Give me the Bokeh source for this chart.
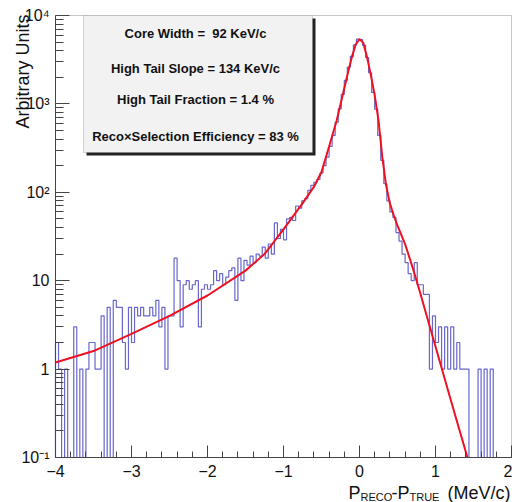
import math
from bokeh.plotting import figure
from bokeh.models import (FixedTicker, SingleIntervalTicker, BoxAnnotation, Label, Range1d)
from bokeh.embed import file_html
from bokeh.resources import INLINE

# ---------------- data ----------------
x_lo, x_hi, bin_w = -4.0, 2.0, 0.04
y_lo, y_hi = 0.1, 1e4
counts = [
    2, 1, 0, 1, 0, 0, 3, 0, 1, 0, 1, 2, 2, 1, 1, 4, 0, 5, 0, 6,
    5, 5, 2, 1, 5, 2, 5, 4, 5, 4, 4, 5, 4, 6, 3, 5, 1, 4, 4, 18,
    10, 3, 9, 10, 8, 9, 10, 3, 8, 9, 8, 9, 13, 10, 12, 9, 11, 13, 14, 6,
    18, 10, 17, 15, 19, 16, 20, 19, 24, 18, 26, 20, 45, 30, 38, 29, 50, 52, 48, 70,
    66, 80, 85, 105, 120, 130, 140, 165, 200, 250, 330, 440, 620, 880, 1280, 1850, 2600, 3450, 4650, 5400,
    5350, 4600, 3350, 2250, 1350, 870, 440, 230, 125, 80, 60, 52, 35, 28, 20, 16, 12, 10, 16, 9,
    9, 7, 7, 1, 4, 2, 3, 1, 3, 1, 3, 1, 2, 1, 1, 1, 0, 0, 0, 1,
    0, 1, 0, 1, 0, 0, 0, 0, 0, 0,
]
fit_x = [-4.0, -3.5, -3.0, -2.5, -2.0, -1.5, -1.25, -1.0, -0.75, -0.6, -0.5, -0.4, -0.3,
         -0.2, -0.15, -0.1, -0.05, 0.0, 0.05, 0.1, 0.15, 0.2, 0.25, 0.3, 0.35, 0.4, 0.45,
         0.5, 0.6, 0.7, 0.8, 0.9, 1.0, 1.2, 1.42]
fit_y = [1.19, 1.6, 2.5, 4.0, 6.8, 13, 20, 38, 75, 115, 170, 330, 650,
         1500, 2300, 3400, 4700, 5400, 4900, 3350, 2100, 1250, 650, 250, 120, 75, 55,
         42, 26, 14, 7.2, 3.6, 1.8, 0.45, 0.1]
stats_lines = ["Core Width = \u00a092 KeV/c",
               "High Tail Slope = 134 KeV/c",
               "High Tail Fraction = 1.4 %",
               "Reco\u00d7Selection Efficiency = 83 %"]
y_tick_vals = [0.1, 1, 10, 100, 1000, 10000]
y_tick_text = ["10\u207b\u00b9", "1", "10", "10\u00b2", "10\u00b3", "10\u2074"]
y_title = "Arbitrary Units"

# ---------------- layout (pixels of the 512x502 canvas) ----------------
W, H = 512, 502
FL, FR, FT, FB = 55, 511, 15, 457          # inner plot frame
PX_PER_X = (FR - FL) / (x_hi - x_lo)
PX_PER_DEC = (FB - FT) / (math.log10(y_hi) - math.log10(y_lo))

def px_x(px):
    return x_lo + (px - FL) / PX_PER_X

def px_y(py):
    return 10 ** (math.log10(y_hi) - (py - FT) / PX_PER_DEC)

FONT = "Liberation Sans"
p = figure(width=W, height=H,
           x_range=Range1d(px_x(0), px_x(W)), y_range=Range1d(px_y(H), px_y(0)),
           y_axis_type="log", output_backend="svg", toolbar_location=None,
           min_border_left=0, min_border_right=0, min_border_top=0, min_border_bottom=0)
p.title.visible = False
p.background_fill_color = "white"
p.border_fill_color = "white"
p.outline_line_color = None
p.xgrid.visible = False
p.ygrid.visible = False

# histogram outline (empty bins drop to the axis)
hx, hy = [x_lo], [y_lo]
for i, c in enumerate(counts):
    l = x_lo + i * bin_w
    v = c if c > 0 else y_lo
    hx += [l, l + bin_w]
    hy += [v, v]
hx.append(x_lo + len(counts) * bin_w)
hy.append(y_lo)
p.line(hx, hy, line_color="#6767cc", line_width=1.2)

# fit curve
p.line(fit_x, fit_y, line_color="#ee1122", line_width=2)

# axes placed on the inner frame
p.xaxis.fixed_location = y_lo
p.yaxis.fixed_location = x_lo
p.xaxis.bounds = (x_lo, x_hi)
p.yaxis.bounds = (y_lo, y_hi)
for ax in (p.xaxis[0], p.yaxis[0]):
    ax.axis_line_color = "#444444"
    ax.major_tick_line_color = "#444444"
    ax.minor_tick_line_color = "#444444"
    ax.major_tick_out = 0
    ax.minor_tick_out = 0
    ax.major_label_text_font = FONT
    ax.major_label_text_font_size = "16px"
    ax.major_label_text_color = "#111111"

p.xaxis.ticker = SingleIntervalTicker(interval=1, num_minor_ticks=5)
p.xaxis.major_tick_in = 12
p.xaxis.minor_tick_in = 6
p.xaxis.major_label_standoff = 7

minor = []
for e in range(-1, 4):
    for k in range(2, 10):
        minor.append(k * 10.0 ** e)
p.yaxis.ticker = FixedTicker(ticks=y_tick_vals, minor_ticks=minor)
p.yaxis.major_label_overrides = {v: t for v, t in zip(y_tick_vals, y_tick_text)}
p.yaxis.major_tick_in = 14
p.yaxis.minor_tick_in = 8
p.yaxis.major_label_standoff = 6

# frame box (top and right edges)
p.add_layout(BoxAnnotation(left=x_lo, right=x_hi, bottom=y_lo, top=y_hi,
                           fill_alpha=0, line_color="#444444", line_width=1))

# stats box with shadow
p.add_layout(BoxAnnotation(left=px_x(86), right=px_x(315), top=px_y(18), bottom=px_y(155),
                           fill_color="#222222", fill_alpha=1, line_alpha=0))
p.add_layout(BoxAnnotation(left=px_x(83), right=px_x(312), top=px_y(15), bottom=px_y(152),
                           fill_color="#f2f2f2", fill_alpha=1, line_color="#777777",
                           line_width=1))
for txt, py in zip(stats_lines, [33, 68, 99, 136]):
    p.add_layout(Label(x=px_x(195), y=px_y(py), text=txt, text_align="center",
                       text_baseline="middle", text_font=FONT, text_font_style="bold",
                       text_font_size="13px", text_color="#111111"))

# y-axis title (top aligned, ROOT style)
p.add_layout(Label(x=px_x(22), y=px_y(14), text=y_title, angle=math.pi / 2,
                   text_align="right", text_baseline="middle", text_font=FONT,
                   text_font_size="18px", text_color="#111111"))

# x-axis title: P_RECO-P_TRUE (MeV/c)
base = px_y(492)
sub = px_y(496)
parts = [("P", 348, base, "18px", "left"),
         ("RECO", 360, sub, "11px", "left"),
         ("-", 391, base, "18px", "left"),
         ("P", 397, base, "18px", "left"),
         ("TRUE", 409, sub, "11px", "left"),
         ("(MeV/c)", 510, base, "18px", "right")]
for txt, px, yy, fs, al in parts:
    p.add_layout(Label(x=px_x(px), y=yy, text=txt, text_align=al,
                       text_baseline="alphabetic", text_font=FONT,
                       text_font_size=fs, text_color="#111111"))

open("out.html", "w").write(file_html(p, INLINE))
